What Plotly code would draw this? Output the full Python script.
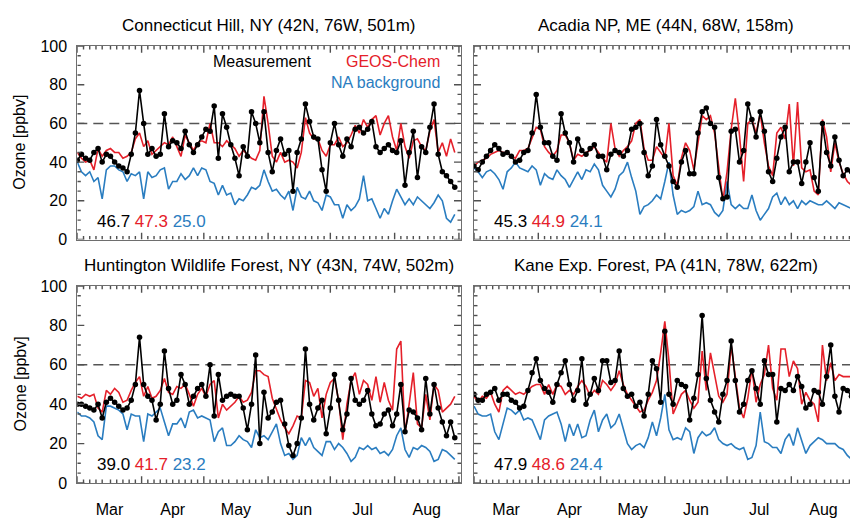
import pandas as pd
import plotly.graph_objects as go

# ---------------- data (days since 1 March, sampled every 2 days) ----------------
days = list(range(0, 184, 2))

ct_meas = [41,44,42,41,45,47,40,44,43,40, 38,37,35,44,55,77,60,44,47,43,
           44,65,48,51,50,47,56,49,45,49, 53,57,56,69,42,65,58,49,42,33,
           48,43,66,60,50,66,45,35,46,52, 44,46,25,45,52,70,61,53,52,36,
           25,50,60,49,43,52,48,57,58,55, 57,61,48,45,47,49,46,45,51,28,
           45,56,32,48,45,58,70,44,35,33, 30,27]
ct_geos = [45,42,40,41,36,47,43,46,47,45, 45,42,43,45,52,55,48,51,44,46,
           48,50,49,53,48,43,54,50,46,50, 51,50,60,50,50,48,51,49,47,43,
           46,44,42,41,46,74,60,43,40,45, 40,41,40,37,45,63,55,52,52,46,
           43,49,49,53,48,50,54,59,55,62, 58,62,64,54,60,64,53,46,60,48,
           42,51,52,48,46,56,62,45,50,43, 52,45]
ct_bg = [40,35,33,35,30,32,21,36,38,38, 36,35,30,34,33,35,21,35,32,33,
         36,37,26,30,30,34,31,33,37,33, 37,36,30,29,23,28,23,24,18,21,
         20,23,27,26,28,36,30,25,26,23, 21,25,15,27,22,21,25,20,19,15,
         23,22,18,18,11,18,15,17,21,33, 20,21,16,11,16,13,20,26,22,18,
         21,18,22,20,18,16,19,23,20,11, 9,13]

ac_meas = [38,36,40,43,46,49,47,44,45,43, 40,41,45,46,55,75,58,50,50,43,
           41,65,55,50,40,52,46,44,47,49, 43,43,36,44,46,45,43,46,57,58,
           60,45,33,38,62,49,43,38,30,27, 40,46,34,34,55,66,68,60,58,32,
           21,22,56,57,40,46,70,62,53,66, 56,35,30,42,53,58,35,40,40,29,
           40,50,32,25,60,45,38,53,41,33, 36,35]
ac_geos = [38,40,41,42,44,45,46,45,45,43, 42,46,46,47,53,58,57,48,45,43,
           46,54,54,50,41,44,43,45,46,48, 45,42,40,60,47,43,46,48,51,60,
           62,47,41,41,48,45,42,60,33,28, 42,50,46,36,51,64,62,64,55,38,
           20,35,57,73,54,30,60,62,55,65, 50,38,33,55,58,52,70,38,71,37,
           35,36,25,23,62,53,35,50,40,34, 30,28]
ac_bg = [37,35,32,35,36,34,31,26,35,37, 40,37,36,35,38,36,28,34,32,31,
         36,33,31,27,31,35,31,36,35,39, 36,28,25,22,26,33,35,40,32,25,
         13,17,18,20,23,21,30,40,23,13, 15,14,15,17,25,18,19,18,14,12,
         15,30,18,16,18,16,16,23,15,10, 13,16,22,24,18,22,18,20,16,20,
         18,20,19,18,18,20,18,16,19,18, 17,16]

hw_meas = [40,40,39,38,37,40,33,41,43,41, 39,37,38,42,50,74,50,44,42,32,
           40,67,48,40,42,55,50,40,44,48, 50,44,60,34,55,42,44,45,44,44,
           38,27,40,65,20,46,33,36,41,42, 30,19,14,20,33,68,40,32,38,42,
           25,38,55,42,27,35,53,42,40,42, 47,35,29,30,35,37,29,35,50,26,
           37,36,33,27,53,35,50,38,31,24, 31,23]
hw_geos = [44,43,45,44,45,38,36,47,45,48, 46,41,42,47,51,54,44,49,43,44,
           47,53,46,45,49,48,50,45,39,45, 48,44,50,52,33,40,37,39,41,44,
           41,42,46,57,57,55,54,43,37,32, 28,25,29,34,33,52,51,44,48,33,
           45,51,53,42,22,40,52,56,45,52, 50,42,54,41,51,42,37,68,72,25,
           40,56,30,28,45,32,50,47,36,38, 40,44]
hw_bg = [36,34,34,33,31,24,22,39,39,38, 37,35,27,35,34,34,21,35,34,36,
         38,31,24,30,30,33,28,36,37,33, 34,33,32,21,26,28,19,19,21,24,
         22,21,18,27,23,24,22,26,30,20, 14,15,12,14,23,19,23,18,16,14,
         21,21,17,20,18,15,11,13,18,17, 19,17,18,15,16,14,17,24,28,17,
         13,18,17,19,18,16,11,12,17,16, 14,12]

ka_meas = [45,42,42,45,46,48,42,45,45,42, 41,38,39,47,56,63,52,48,46,41,
           50,56,62,50,42,47,63,40,45,53, 47,62,62,51,52,67,48,44,45,39,
           41,34,45,62,58,41,77,45,40,52, 50,49,32,43,55,85,53,42,36,31,
           45,52,72,52,36,40,52,57,48,40, 62,55,55,31,48,47,50,47,54,49,
           38,40,47,46,40,54,70,44,36,48, 47,44]
ka_geos = [44,41,44,43,46,40,36,47,49,47, 45,46,45,47,49,50,50,45,50,45,
           50,49,45,47,45,49,52,49,44,47, 45,52,50,47,50,57,50,45,42,39,
           36,37,42,46,52,66,82,62,35,40, 45,47,42,38,41,67,47,66,55,44,
           41,45,70,55,38,33,43,58,41,50, 55,70,48,42,68,68,54,62,58,40,
           46,42,40,31,70,52,61,52,55,54, 54,54]
ka_bg = [39,35,34,34,35,26,22,30,38,37, 35,37,32,33,32,27,22,32,34,35,
         36,30,21,30,24,30,23,24,32,37, 26,32,35,28,30,35,28,20,17,19,
         20,18,23,31,24,33,45,27,22,23, 22,28,26,15,23,26,24,25,28,22,
         20,19,20,18,17,18,12,13,19,36, 21,20,18,18,15,22,25,19,28,21,
         15,19,21,23,22,20,20,20,18,17, 14,12]

titles = ["Connecticut Hill, NY (42N, 76W, 501m)", "Acadia NP, ME (44N, 68W, 158m)",
          "Huntington Wildlife Forest, NY (43N, 74W, 502m)", "Kane Exp. Forest, PA (41N, 78W, 622m)"]
means = [("46.7", "47.3", "25.0"), ("45.3", "44.9", "24.1"),
         ("39.0", "41.7", "23.2"), ("47.9", "48.6", "24.4")]
threshold = 60

# ---------------- styling / layout ----------------
BASE = pd.Timestamp("2010-03-01")
dates = [BASE + pd.Timedelta(days=d) for d in days]
BLACK, RED, BLUE = "#000000", "#e5202a", "#2a7dc0"
FRAME, TICK = "#6e6e6e", "#505050"
FONT = "Liberation Sans, Arial, Helvetica, sans-serif"
W, H = 850, 522

month_starts = list(pd.date_range("2010-03-01", "2010-09-01", freq="MS"))
minor_dates = []
for a, b in zip(month_starts[:-1], month_starts[1:]):
    n = (b - a).days
    for k in range(1, 10):
        minor_dates.append(a + pd.Timedelta(days=round(k * n / 10)))

geo = {  # panel pixel boxes (x0, x1, y_top, y_bottom)
    1: (77.3, 461.0, 39.3, 239.3),
    2: (474.0, 850.0, 39.3, 239.3),
    3: (77.3, 461.0, 287.3, 491.0),
    4: (474.0, 850.0, 287.3, 491.0),
}
px_per_day = (461.0 - 77.3) / 185.0
MAJ_PX, MIN_PX = 7.0, 3.5

series = [(ct_meas, ct_geos, ct_bg), (ac_meas, ac_geos, ac_bg),
          (hw_meas, hw_geos, hw_bg), (ka_meas, ka_geos, ka_bg)]

fig = go.Figure()
layout = dict(width=W, height=H, margin=dict(l=0, r=0, t=0, b=0),
              paper_bgcolor="white", plot_bgcolor="white", showlegend=False,
              font=dict(family=FONT, size=16, color="black"))
annotations = []

for p in range(1, 5):
    meas, geos, bg = series[p - 1]
    xs = "x" if p == 1 else f"x{p}"
    ys = "y" if p == 1 else f"y{p}"
    x0, x1, yt, yb = geo[p]
    left = p in (1, 3)
    bottom = p in (3, 4)
    span_days = (x1 - x0) / px_per_day
    x_end = BASE + pd.Timedelta(days=span_days)
    xr = [BASE.strftime("%Y-%m-%d"), x_end.strftime("%Y-%m-%d %H:%M")]
    px_per_unit = (yb - yt) / 100.0

    # dashed reference level
    fig.add_trace(go.Scatter(x=[BASE, x_end], y=[threshold, threshold], mode="lines",
                             line=dict(color="#555555", width=1.5, dash="10px,6px"),
                             xaxis=xs, yaxis=ys, hoverinfo="skip"))
    fig.add_trace(go.Scatter(x=dates, y=bg, mode="lines", line=dict(color=BLUE, width=1.6),
                             xaxis=xs, yaxis=ys))
    fig.add_trace(go.Scatter(x=dates, y=geos, mode="lines", line=dict(color=RED, width=1.6),
                             xaxis=xs, yaxis=ys))
    fig.add_trace(go.Scatter(x=dates, y=meas, mode="lines+markers",
                             line=dict(color=BLACK, width=1.6),
                             marker=dict(color=BLACK, size=5.5), xaxis=xs, yaxis=ys))

    # inside tick marks (bottom/top for time axis, left/right for ozone axis)
    tx, ty = [], []
    for dlist, lpx in ((month_starts, MAJ_PX), (minor_dates, MIN_PX)):
        L = lpx / px_per_unit
        for d in dlist:
            if d > x_end:
                continue
            tx += [d, d, None, d, d, None]
            ty += [0, L, None, 100, 100 - L, None]
    for v in range(0, 101, 5):
        lpx = MAJ_PX if v % 20 == 0 else MIN_PX
        dd = pd.Timedelta(days=lpx / px_per_day)
        tx += [BASE, BASE + dd, None]
        ty += [v, v, None]
        if left:
            tx += [x_end - dd, x_end, None]
            ty += [v, v, None]
    fig.add_trace(go.Scatter(x=tx, y=ty, mode="lines", line=dict(color=TICK, width=1.4),
                             xaxis=xs, yaxis=ys, hoverinfo="skip", cliponaxis=False))

    xkey = "xaxis" if p == 1 else f"xaxis{p}"
    ykey = "yaxis" if p == 1 else f"yaxis{p}"
    layout[xkey] = dict(domain=[x0 / W, x1 / W], range=xr, type="date", anchor=ys,
                        showline=True, linecolor=FRAME, mirror=True,
                        ticks="", tickmode="linear", tick0="2010-03-01", dtick="M1",
                        ticklabelmode="period", tickformat="%b",
                        showticklabels=bottom, ticklabelstandoff=12,
                        showgrid=False, zeroline=False,
                        tickfont=dict(size=16, color="black"))
    layout[ykey] = dict(domain=[1 - yb / H, 1 - yt / H], range=[0, 100], anchor=xs,
                        showline=True, linecolor=FRAME, mirror=True if left else False,
                        ticks="", dtick=20, showticklabels=left, ticklabelstandoff=6,
                        showgrid=False, zeroline=False,
                        tickfont=dict(size=16, color="black"))

    # panel title
    cx = (x0 + (x0 + 383.7)) / 2
    annotations.append(dict(text=titles[p - 1], xref="paper", yref="paper",
                            x=cx / W, y=1 - (yt - 21) / H, xanchor="center", yanchor="middle",
                            showarrow=False, font=dict(size=17, color="black")))
    # means
    m0, m1, m2 = means[p - 1]
    annotations.append(dict(text=f"{m0} <span style='color:{RED}'>{m1}</span> "
                                 f"<span style='color:{BLUE}'>{m2}</span>",
                            xref="paper", yref="paper", x=(x0 + 17.5) / W, y=1 - (yb - 19) / H,
                            xanchor="left", yanchor="middle", showarrow=False,
                            font=dict(size=17, color=BLACK)))
    if left:
        annotations.append(dict(text="Ozone [ppbv]", xref="paper", yref="paper",
                                x=20 / W, y=1 - ((yt + yb) / 2) / H, textangle=-90,
                                xanchor="center", yanchor="middle", showarrow=False,
                                font=dict(size=16, color="black")))

# legend texts in first panel
annotations.append(dict(text="Measurement", xref="paper", yref="paper", x=313 / W, y=1 - 55 / H,
                        xanchor="right", yanchor="middle", showarrow=False,
                        font=dict(size=16, color=BLACK)))
annotations.append(dict(text="GEOS-Chem", xref="paper", yref="paper", x=442 / W, y=1 - 55 / H,
                        xanchor="right", yanchor="middle", showarrow=False,
                        font=dict(size=16, color=RED)))
annotations.append(dict(text="NA background", xref="paper", yref="paper", x=442 / W, y=1 - 77 / H,
                        xanchor="right", yanchor="middle", showarrow=False,
                        font=dict(size=16, color=BLUE)))

layout["annotations"] = annotations
fig.update_layout(**layout)
fig.write_html("out.html", config={"displayModeBar": False},
               post_script="document.body.style.margin='0';document.body.style.overflow='hidden';")
